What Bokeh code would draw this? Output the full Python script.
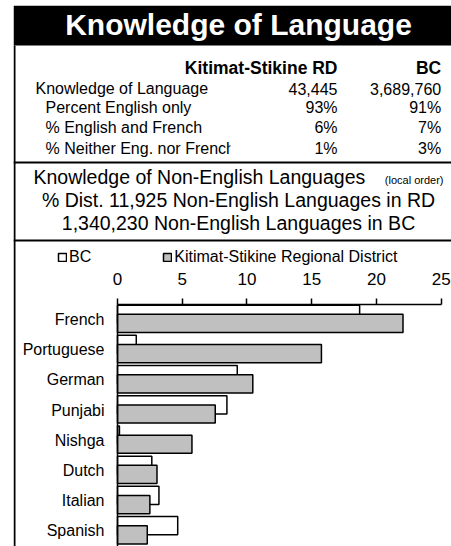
from bokeh.plotting import figure
from bokeh.models import Range1d, FixedTicker, Legend, LegendItem, ColumnDataSource
from bokeh.embed import file_html
from bokeh.resources import INLINE
from bokeh.core.properties import value

# ---------------- data ----------------
title_text = "Knowledge of Language"
col_headers = ["Kitimat-Stikine RD", "BC"]
row_labels = ["Knowledge of Language", "Percent English only",
              "% English and French", "% Neither Eng. nor French"]
rd_values = ["43,445", "93%", "6%", "1%"]
bc_values = ["3,689,760", "91%", "7%", "3%"]
sub_title = "Knowledge of Non-English Languages"
sub_note = "(local order)"
sub_line2 = "% Dist. 11,925 Non-English Languages in RD"
sub_line3 = "1,340,230 Non-English Languages in BC"

languages = ["French", "Portuguese", "German", "Punjabi", "Nishga",
             "Dutch", "Italian", "Spanish"]
bc_pct = [18.7, 1.45, 9.25, 8.45, 0.15, 2.65, 3.2, 4.65]
rd_pct = [22.05, 15.75, 10.45, 7.55, 5.75, 3.05, 2.5, 2.3]
x_ticks = [0, 5, 10, 15, 20, 25]
series_names = ["BC", "Kitimat-Stikine Regional District"]

FONT = "Liberation Sans"

# ---------------- layout geometry (page pixels) ----------------
PAGE_L, PAGE_T = 13, 5         # canvas origin on the page
W, H = 438, 541
X0_PX, X25_PX = 117.0, 440.7   # where 0 and 25 sit
CAT0_PX, CAT_STEP = 319.0, 30.2
AXIS_PX = 303.5
SX = (X25_PX - X0_PX) / 25.0


def px(x):
    return (x - X0_PX) / SX


def py(y):
    return (y - CAT0_PX) / CAT_STEP


x_start, x_end = px(PAGE_L), px(PAGE_L + W)
y_top, y_bot = py(PAGE_T), py(PAGE_T + H)

p = figure(width=W, height=H, x_range=Range1d(x_start, x_end),
           y_range=Range1d(y_bot, y_top),
           x_axis_location="above", output_backend="svg", toolbar_location=None,
           min_border=0, margin=(PAGE_T, 0, 0, PAGE_L))
p.grid.visible = False
p.outline_line_color = None

# ---------------- header block ----------------
p.quad(left=[px(13)], right=[px(451)], top=[py(5)], bottom=[py(45)],
       fill_color="black", line_color=None)
p.quad(left=[px(13)], right=[px(15)], top=[py(45)], bottom=[py(546)],
       fill_color="black", line_color=None)
p.quad(left=[px(13), px(13)], right=[px(451), px(451)],
       top=[py(161), py(239)], bottom=[py(163), py(241)],
       fill_color="black", line_color=None)

p.text(x=[px(238)], y=[py(24)], text=[title_text], text_color="white",
       text_font=value(FONT), text_font_style="bold", text_font_size="30px",
       text_align="center", text_baseline="middle")

p.text(x=[px(337), px(440.7)], y=[py(67)] * 2, text=col_headers, text_color="black",
       text_font=value(FONT), text_font_style="bold", text_font_size="17.5px",
       text_align="right", text_baseline="middle")

row_y = [py(v) for v in (88, 107, 127, 148)]
row_x = [px(v) for v in (35, 45, 45, 45)]
p.text(x=row_x, y=row_y, text=row_labels, text_color="black",
       text_font=value(FONT), text_font_size="16px",
       text_align="left", text_baseline="middle")
# cell edge clips the last label
p.quad(left=[px(230)], right=[px(290)], top=[py(138)], bottom=[py(158)],
       fill_color="white", line_color=None)
p.text(x=[px(337)] * 4, y=row_y, text=rd_values, text_color="black",
       text_font=value(FONT), text_font_size="16px",
       text_align="right", text_baseline="middle")
p.text(x=[px(440.7)] * 4, y=row_y, text=bc_values, text_color="black",
       text_font=value(FONT), text_font_size="16px",
       text_align="right", text_baseline="middle")

p.text(x=[px(33)], y=[py(176)], text=[sub_title], text_color="black",
       text_font=value(FONT), text_font_size="19.5px",
       text_align="left", text_baseline="middle")
p.text(x=[px(443)], y=[py(179)], text=[sub_note], text_color="black",
       text_font=value(FONT), text_font_size="11px",
       text_align="right", text_baseline="middle")
p.text(x=[px(238)] * 2, y=[py(199), py(222)], text=[sub_line2, sub_line3],
       text_color="black", text_font=value(FONT), text_font_size="19.5px",
       text_align="center", text_baseline="middle")

# ---------------- bar chart ----------------
n = len(languages)
idx = list(range(n))
src = ColumnDataSource(dict(
    y_bc=[i - 0.175 for i in idx], y_rd=[i + 0.13 for i in idx],
    bc=bc_pct, rd=rd_pct, lang=languages))

r_bc = p.hbar(y="y_bc", left=0, right="bc", height=0.6, source=src,
              fill_color="white", line_color="black", line_width=1.5)
r_rd = p.hbar(y="y_rd", left=0, right="rd", height=0.6, source=src,
              fill_color="#c0c0c0", line_color="black", line_width=1.5)

axis_y = py(AXIS_PX)

xa = p.xaxis[0]
xa.fixed_location = axis_y
xa.bounds = (0, 25)
xa.ticker = FixedTicker(ticks=x_ticks)
xa.minor_tick_line_color = None
xa.major_tick_out = 6
xa.major_tick_in = 0
xa.axis_line_width = 1.5
xa.major_tick_line_width = 1.5
xa.major_label_text_font = FONT
xa.major_label_text_font_size = "17px"
xa.major_label_text_color = "black"
xa.major_label_standoff = 13

ya = p.yaxis[0]
ya.fixed_location = 0
ya.bounds = (axis_y, y_bot)
ya.ticker = FixedTicker(ticks=idx)
ya.major_label_overrides = {i: languages[i] for i in idx}
ya.minor_tick_line_color = None
ya.major_tick_out = 0
ya.major_tick_in = 0
ya.axis_line_width = 1.5
ya.major_label_text_font = FONT
ya.major_label_text_font_size = "16px"
ya.major_label_text_color = "black"
ya.major_label_standoff = 13

legend = Legend(items=[LegendItem(label=series_names[0], renderers=[r_bc]),
                       LegendItem(label=series_names[1], renderers=[r_rd])],
                orientation="horizontal", location=(44, 280),
                glyph_width=10, glyph_height=10, label_standoff=2, spacing=71,
                padding=0, margin=0, border_line_color=None,
                background_fill_alpha=0, label_text_font=FONT,
                label_text_font_size="16px", label_text_color="black")
p.add_layout(legend)

open("out.html", "w").write(file_html(p, INLINE))
